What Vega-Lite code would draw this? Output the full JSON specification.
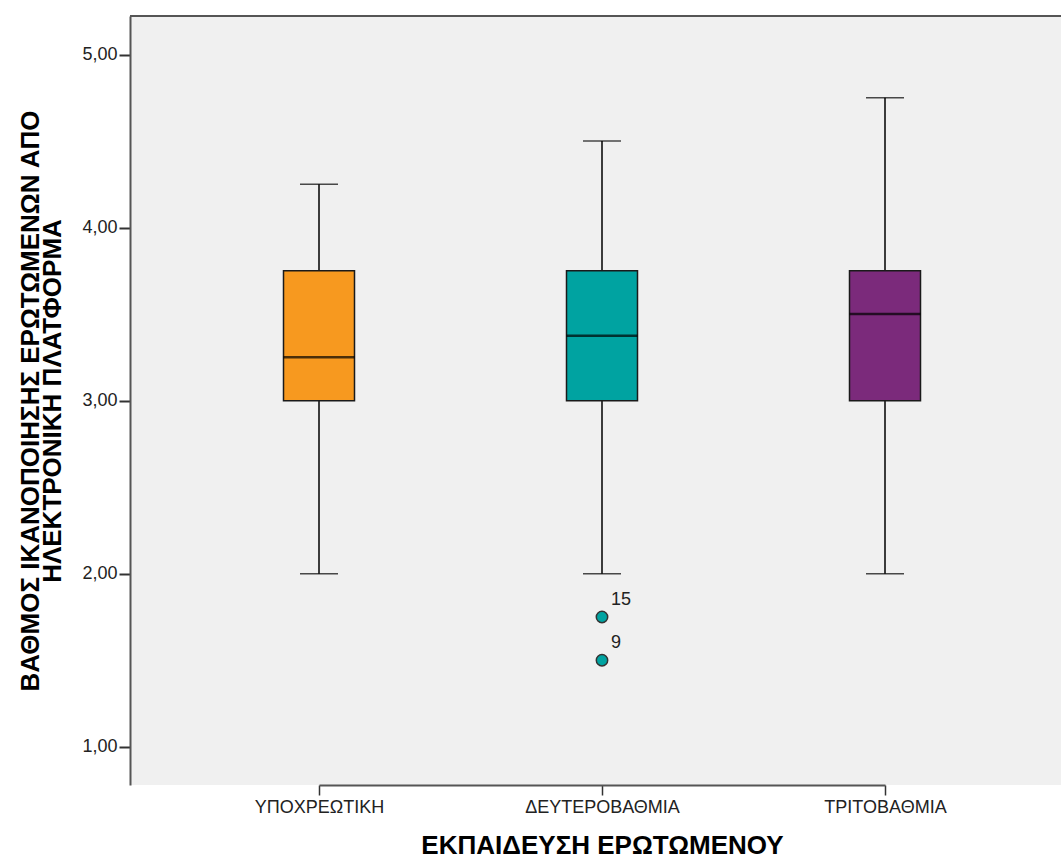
{
  "$schema": "https://vega.github.io/schema/vega-lite/v6.json",
  "width": 931,
  "height": 769,
  "autosize": "none",
  "padding": {"left": 130, "top": 16, "right": 0, "bottom": 77},
  "background": "white",
  "config": {
    "view": {"fill": "#f0f0f0", "stroke": null},
    "font": "Liberation Sans"
  },
  "datasets": {
    "boxes": [
      {"edu": "ΥΠΟΧΡΕΩΤΙΚΗ", "min": 2.0, "q1": 3.0, "median": 3.25, "q3": 3.75, "max": 4.25},
      {"edu": "ΔΕΥΤΕΡΟΒΑΘΜΙΑ", "min": 2.0, "q1": 3.0, "median": 3.375, "q3": 3.75, "max": 4.5},
      {"edu": "ΤΡΙΤΟΒΑΘΜΙΑ", "min": 2.0, "q1": 3.0, "median": 3.5, "q3": 3.75, "max": 4.75}
    ],
    "outliers": [
      {"edu": "ΔΕΥΤΕΡΟΒΑΘΜΙΑ", "value": 1.75, "case": "15"},
      {"edu": "ΔΕΥΤΕΡΟΒΑΘΜΙΑ", "value": 1.5, "case": "9"}
    ]
  },
  "layer": [
    {
      "data": {"name": "boxes"},
      "mark": {"type": "rule", "color": "#000000", "strokeWidth": 1.5},
      "encoding": {
        "x": {
          "field": "edu",
          "type": "nominal",
          "sort": ["ΥΠΟΧΡΕΩΤΙΚΗ", "ΔΕΥΤΕΡΟΒΑΘΜΙΑ", "ΤΡΙΤΟΒΑΘΜΙΑ"],
          "scale": {"type": "point", "range": [189, 755], "padding": 0},
          "axis": {
            "title": "ΕΚΠΑΙΔΕΥΣΗ ΕΡΩΤΩΜΕΝΟΥ",
            "titleFontSize": 26,
            "titleFontWeight": "bold",
            "titleColor": "#000000",
            "titlePadding": 16,
            "labelAngle": 0,
            "labelFontSize": 18,
            "labelColor": "#222222",
            "labelPadding": 3,
            "tickSize": 10,
            "tickColor": "#333333",
            "tickWidth": 1.5,
            "domainColor": "#555555",
            "domainWidth": 2,
            "grid": false
          }
        },
        "y": {
          "field": "min",
          "type": "quantitative",
          "scale": {"domain": [0.779, 5.2225], "nice": false, "zero": false},
          "axis": {
            "title": ["ΒΑΘΜΟΣ ΙΚΑΝΟΠΟΙΗΣΗΣ ΕΡΩΤΩΜΕΝΩΝ ΑΠΟ", "ΗΛΕΚΤΡΟΝΙΚΗ ΠΛΑΤΦΟΡΜΑ"],
            "titleFontSize": 26,
            "titleFontWeight": "bold",
            "titleColor": "#000000",
            "titleLineHeight": 22,
            "titlePadding": 16,
            "values": [1, 2, 3, 4, 5],
            "labelExpr": "replace(format(datum.value, '.2f'), '.', ',')",
            "labelFontSize": 18,
            "labelColor": "#222222",
            "labelPadding": 2,
            "tickSize": 11,
            "tickColor": "#333333",
            "tickWidth": 2,
            "domainColor": "#555555",
            "domainWidth": 2,
            "grid": false
          }
        },
        "y2": {"field": "max"}
      }
    },
    {
      "data": {"name": "boxes"},
      "mark": {"type": "tick", "color": "#000000", "size": 38, "thickness": 1.5, "orient": "horizontal"},
      "encoding": {
        "x": {"field": "edu", "type": "nominal", "sort": ["ΥΠΟΧΡΕΩΤΙΚΗ", "ΔΕΥΤΕΡΟΒΑΘΜΙΑ", "ΤΡΙΤΟΒΑΘΜΙΑ"]},
        "y": {"field": "min", "type": "quantitative"}
      }
    },
    {
      "data": {"name": "boxes"},
      "mark": {"type": "tick", "color": "#000000", "size": 38, "thickness": 1.5, "orient": "horizontal"},
      "encoding": {
        "x": {"field": "edu", "type": "nominal", "sort": ["ΥΠΟΧΡΕΩΤΙΚΗ", "ΔΕΥΤΕΡΟΒΑΘΜΙΑ", "ΤΡΙΤΟΒΑΘΜΙΑ"]},
        "y": {"field": "max", "type": "quantitative"}
      }
    },
    {
      "data": {"name": "boxes"},
      "mark": {"type": "bar", "size": 71, "stroke": "#1a1a1a", "strokeWidth": 1.5},
      "encoding": {
        "x": {"field": "edu", "type": "nominal", "sort": ["ΥΠΟΧΡΕΩΤΙΚΗ", "ΔΕΥΤΕΡΟΒΑΘΜΙΑ", "ΤΡΙΤΟΒΑΘΜΙΑ"]},
        "y": {"field": "q1", "type": "quantitative"},
        "y2": {"field": "q3"},
        "fill": {
          "field": "edu",
          "type": "nominal",
          "scale": {
            "domain": ["ΥΠΟΧΡΕΩΤΙΚΗ", "ΔΕΥΤΕΡΟΒΑΘΜΙΑ", "ΤΡΙΤΟΒΑΘΜΙΑ"],
            "range": ["#F7991F", "#00A3A1", "#7B2A7B"]
          },
          "legend": null
        }
      }
    },
    {
      "data": {"name": "boxes"},
      "mark": {"type": "tick", "color": "#000000", "size": 71, "thickness": 2.5, "orient": "horizontal"},
      "encoding": {
        "x": {"field": "edu", "type": "nominal", "sort": ["ΥΠΟΧΡΕΩΤΙΚΗ", "ΔΕΥΤΕΡΟΒΑΘΜΙΑ", "ΤΡΙΤΟΒΑΘΜΙΑ"]},
        "y": {"field": "median", "type": "quantitative"}
      }
    },
    {
      "data": {"name": "outliers"},
      "mark": {"type": "point", "shape": "circle", "filled": true, "size": 130, "fill": "#00A3A1", "stroke": "#333333", "strokeWidth": 1.5, "opacity": 1},
      "encoding": {
        "x": {"field": "edu", "type": "nominal", "sort": ["ΥΠΟΧΡΕΩΤΙΚΗ", "ΔΕΥΤΕΡΟΒΑΘΜΙΑ", "ΤΡΙΤΟΒΑΘΜΙΑ"]},
        "y": {"field": "value", "type": "quantitative"}
      }
    },
    {
      "data": {"name": "outliers"},
      "mark": {"type": "text", "align": "left", "baseline": "middle", "dx": 9, "dy": -17, "fontSize": 18, "color": "#222222"},
      "encoding": {
        "x": {"field": "edu", "type": "nominal", "sort": ["ΥΠΟΧΡΕΩΤΙΚΗ", "ΔΕΥΤΕΡΟΒΑΘΜΙΑ", "ΤΡΙΤΟΒΑΘΜΙΑ"]},
        "y": {"field": "value", "type": "quantitative"},
        "text": {"field": "case"}
      }
    },
    {
      "data": {"values": [{}]},
      "mark": {"type": "rule", "color": "#555555", "strokeWidth": 2},
      "encoding": {"y": {"datum": 5.2225}}
    }
  ]
}
